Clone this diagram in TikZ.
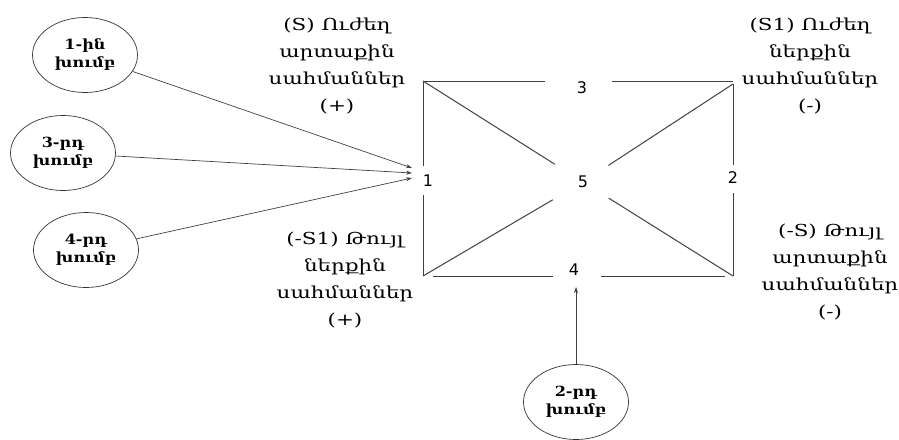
\documentclass[tikz,border=0pt]{standalone}
\usepackage{fontspec}
\setmainfont[FakeStretch=1.3]{DejaVu Serif}
\newfontfamily\numfont{DejaVu Sans}
\newfontfamily\grpfont[FakeStretch=1.15]{DejaVu Serif}
\usetikzlibrary{shapes.geometric,arrows.meta}
\tikzset{
  grp/.style={draw=black!80, line width=0.7pt, ellipse, minimum width=105pt, minimum height=75pt, inner sep=0pt, align=center,
     font=\grpfont\bfseries\fontsize{14}{18}\selectfont},
  num/.style={font=\numfont\fontsize{16}{16}\selectfont, inner sep=0pt},
  lbl/.style={align=center, font=\fontsize{16.5}{27}\selectfont, inner sep=0pt},
  edge/.style={line width=1pt, draw=black!75},
  arr/.style={line width=0.7pt, draw=black!75, -{Stealth[length=6pt,width=4pt]}}
}
\begin{document}
\begin{tikzpicture}[x=1pt,y=-1pt]
\useasboundingbox (0,0) rectangle (899,439);
% groups
\node[grp] (g1) at (85,55) {1-ին\\խումբ};
\node[grp] (g3) at (63,153) {3-րդ\\խումբ};
\node[grp] (g4) at (86,250) {4-րդ\\խումբ};
\node[grp] (g2) at (576,402) {2-րդ\\խումբ};
% corners
\coordinate (c1) at (423,81);
\coordinate (c2) at (733,81);
\coordinate (c3) at (423,276);
\coordinate (c4) at (733,276);
% numbers
\node[num] (n1) at (428,181) {1};
\node[num] (n2) at (733,178) {2};
\node[num] (n3) at (582,88) {3};
\node[num] (n4) at (574,270) {4};
\node[num] (n5) at (583,182) {5};
% arrow targets
\coordinate (t1) at (412,168);
\coordinate (t3) at (412,173);
\coordinate (t4) at (412,178);
\coordinate (t2) at (576,287);
% square edges
\draw[edge] (c1) -- ([xshift=-37pt]c1 -| n3);
\draw[edge] ([xshift=30pt]c1 -| n3) -- (c2);
\draw[edge] (c1) -- ([yshift=15pt]n1 -| c1);
\draw[edge] ([yshift=-14pt]n1 -| c1) -- (c3);
\draw[edge] ([yshift=-3pt]c2) -- ([yshift=13pt]n2 -| c2);
\draw[edge] ([yshift=-15pt]n2 -| c2) -- (c4);
\draw[edge] ([xshift=10pt]c3) -- ([xshift=-21pt]c3 -| n4);
\draw[edge] ([xshift=27pt]c3 -| n4) -- ([xshift=-8pt]c4);
% diagonals
\draw[edge, shorten >=27pt] (c1) -- (n5);
\draw[edge, shorten >=24pt] ([yshift=-3pt]c2) -- (n5);
\draw[edge, shorten >=29pt] (c3) -- (n5);
\draw[edge, shorten >=24pt] (c4) -- (n5);
% arrows
\draw[arr] (g1) -- (t1);
\draw[arr] (g3) -- (t3);
\draw[arr] (g4) -- (t4);
\draw[arr] (g2) -- (t2);
% labels
\node[lbl] (l1) at (337,66) {(S) Ուժեղ\\արտաքին\\սահմաններ\\(+)};
\node[lbl] (l2) at (345,280) {(-S1) Թույլ\\ներքին\\սահմաններ\\(+)};
\node[lbl] (l3) at (810,66) {(S1) Ուժեղ\\ներքին\\սահմաններ\\(-)};
\node[lbl] (l4) at (830,272) {(-S) Թույլ\\արտաքին\\սահմաններ\\(-)};
\end{tikzpicture}
\end{document}
